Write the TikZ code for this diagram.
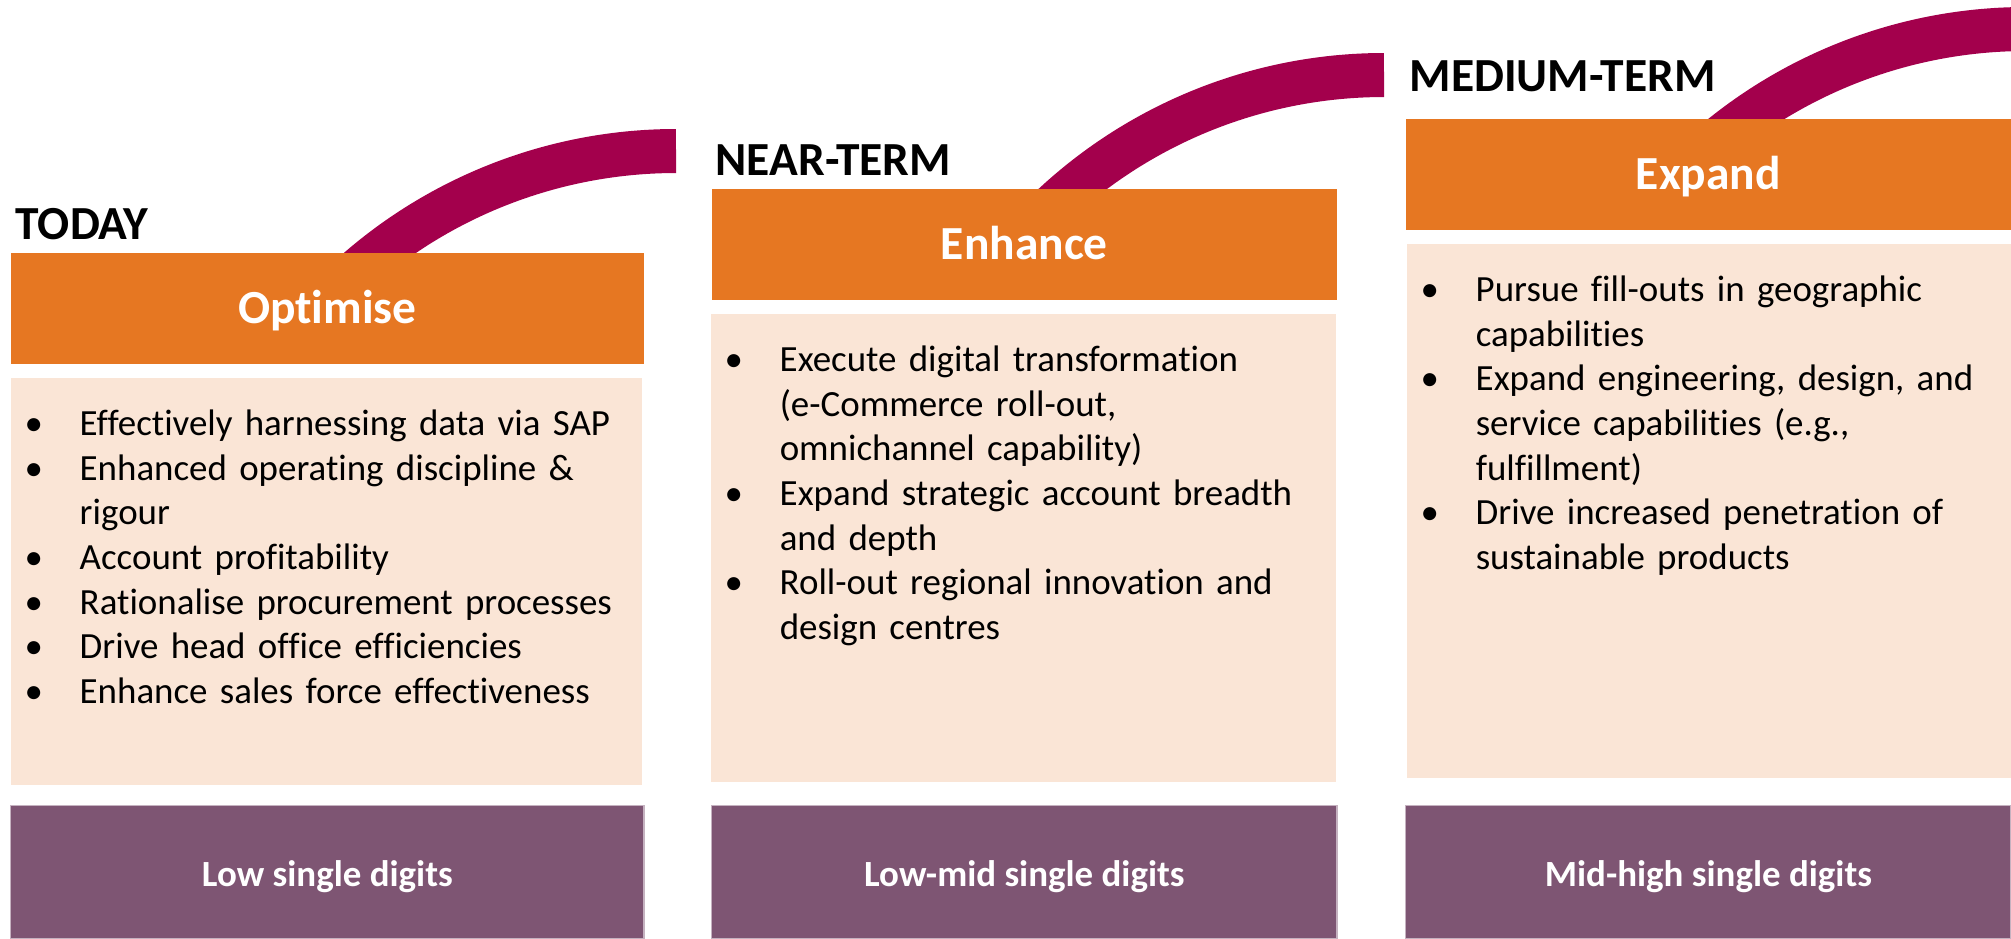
\documentclass[tikz,border=0pt]{standalone}
\usepackage{fontspec}
\setmainfont{Carlito}[Ligatures={NoCommon}]
\usetikzlibrary{positioning}
\definecolor{headcol}{HTML}{E67722}
\definecolor{bodycol}{HTML}{FAE5D6}
\definecolor{footcol}{HTML}{7E5573}
\definecolor{bridgecol}{HTML}{A3004C}
\tikzstyle{header}=[fill=headcol,text=white,anchor=north west,inner sep=0,
                    minimum height=1.11cm,text height=8.6pt,text depth=0pt,
                    font=\fontsize{13.5}{16}\selectfont\bfseries]
\tikzstyle{body}=[fill=bodycol,anchor=north west,inner sep=0]
\tikzstyle{footer}=[fill=footcol,draw=footcol!45!white,line width=0.4pt,
                    text=white,anchor=north west,inner sep=0,
                    minimum height=1.33cm,text height=8.2pt,text depth=0pt,
                    font=\fontsize{10.5}{12.7}\selectfont\bfseries]
\tikzstyle{term}=[anchor=base west,inner sep=0,
                  font=\fontsize{13.5}{16}\selectfont\bfseries]
\tikzstyle{items}=[inner sep=0,text width=6.2cm,align=left,
                   font=\fontsize{10.5}{12.7}\selectfont]
\tikzset{bridge/.style={line width=0.44cm,bridgecol}}
\newcommand\bul{\par\noindent\hangindent=0.55cm\hangafter=1\strut
  \makebox[0.55cm][l]{\textbullet}}

\begin{document}
\begin{tikzpicture}[x=0.01cm,y=-0.01cm]
  \def\R{485}
  \useasboundingbox (0,0) rectangle (2011,938);
  \clip (0,0) rectangle (2011,938);

  % BRIDGES
  \foreach \xa/\ya in {676/151,1384/75,2026/29}{
    \draw[bridge] (\xa,\ya) arc[start angle=270,end angle=225,radius=\R];
  }

  % HEADERS
  \node[header,minimum width=6.33cm] (opt) at (10,252) {Optimise};
  \node[header,minimum width=6.25cm] (enh) at (711,188) {Enhance};
  \node[header,minimum width=6.05cm] (exp) at (1405,118) {Expand};

  % TERMS
  \node[term] (today) at (15,239) {TODAY};
  \node[term] (near) at (715,175) {NEAR-TERM};
  \node[term] (medium) at (1409,91) {MEDIUM-TERM};

  % BODIES
  \node[body,minimum width=6.31cm,minimum height=4.07cm] (optbody) at (10,377) {};
  \node[body,minimum width=6.25cm,minimum height=4.68cm] (enhbody) at (710,313) {};
  \node[body,minimum width=6.04cm,minimum height=5.34cm] (expbody) at (1406,243) {};

  \node[items,below right=0.13cm and 0.14cm of optbody.north west] (optitems) {%
    \bul Effectively harnessing data via SAP
    \bul Enhanced operating discipline \&\newline rigour
    \bul Account profitability
    \bul Rationalise procurement processes
    \bul Drive head office efficiencies
    \bul Enhance sales force effectiveness\par};
  \node[items,below right=0.13cm and 0.14cm of enhbody.north west] (enhitems) {%
    \bul Execute digital transformation\newline (e-Commerce roll-out,\newline omnichannel capability)
    \bul Expand strategic account breadth\newline and depth
    \bul Roll-out regional innovation and\newline design centres\par};
  \node[items,below right=0.13cm and 0.14cm of expbody.north west] (expitems) {%
    \bul Pursue fill-outs in geographic\newline capabilities
    \bul Expand engineering, design, and\newline service capabilities (e.g.,\newline fulfillment)
    \bul Drive increased penetration of\newline sustainable products\par};

  % FOOTERS
  \node[footer,minimum width=6.33cm] (optfoot) at (10,805) {Low single digits};
  \node[footer,minimum width=6.25cm] (enhfoot) at (711,805) {Low-mid single digits};
  \node[footer,minimum width=6.05cm] (expfoot) at (1405,805) {Mid-high single digits};

\end{tikzpicture}
\end{document}
